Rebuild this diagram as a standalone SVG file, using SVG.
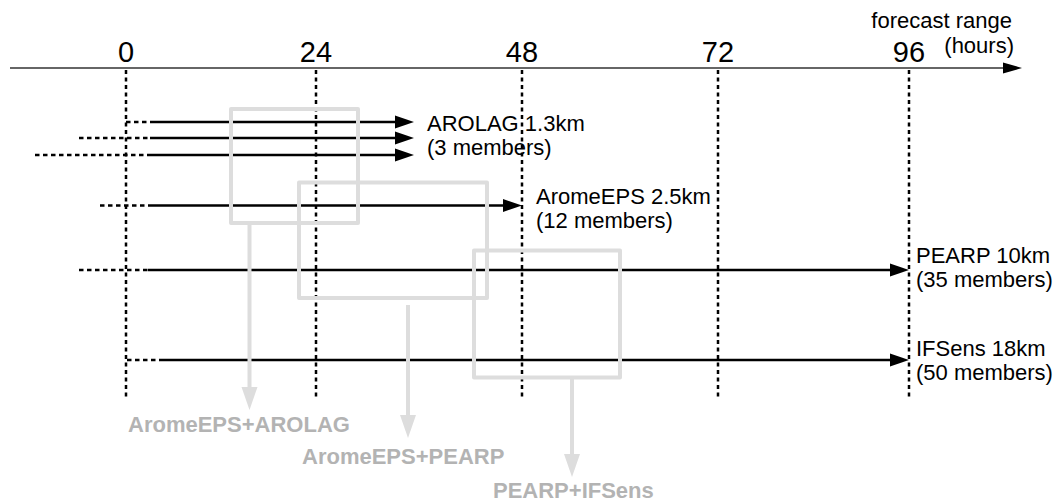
<svg xmlns="http://www.w3.org/2000/svg" width="1057" height="503" viewBox="0 0 1057 503">
<style>
.lbl{font-family:"Liberation Sans",Arial,sans-serif;font-size:22px;fill:#000}
.num{font-family:"Liberation Sans",Arial,sans-serif;font-size:29px;fill:#000;text-anchor:middle}
.glbl{font-family:"Liberation Sans",Arial,sans-serif;font-size:22px;font-weight:bold;fill:#b3b3b3}
.tick{stroke:#000;stroke-width:2.5;stroke-dasharray:4 3.5;fill:none}
.dash{stroke:#000;stroke-width:2.5;stroke-dasharray:4.5 3.5;fill:none}
.arr{stroke:#000;stroke-width:2.5;fill:none;marker-end:url(#ah)}
.box{fill:none;stroke:#dddddd;stroke-width:4;stroke-linejoin:round}
.garr{stroke:#dddddd;stroke-width:4;fill:none;marker-end:url(#gh)}
</style>
<defs>
<marker id="ah" markerUnits="userSpaceOnUse" markerWidth="19" markerHeight="13" refX="0" refY="6.5" orient="auto" overflow="visible"><path d="M0,0 L19,6.5 L0,13 z" fill="#000"/></marker>
<marker id="axh" markerUnits="userSpaceOnUse" markerWidth="19" markerHeight="11" refX="0" refY="5.5" orient="auto" overflow="visible"><path d="M0,0 L19,5.5 L0,11 z" fill="#000"/></marker>
<marker id="gh" markerUnits="userSpaceOnUse" markerWidth="23" markerHeight="16" refX="0" refY="8" orient="auto" overflow="visible"><path d="M0,0 L23,8 L0,16 z" fill="#dddddd"/></marker>
</defs>
<g id="axis">
<line x1="10" y1="68" x2="1003" y2="68" stroke="#333" stroke-width="1.5" marker-end="url(#axh)"/>
<text class="lbl" x="1012" y="28" text-anchor="end">forecast range</text>
<text class="lbl" x="1014" y="53" text-anchor="end">(hours)</text>
<text class="num" x="126" y="62">0</text>
<text class="num" x="316" y="62">24</text>
<text class="num" x="522" y="62">48</text>
<text class="num" x="718" y="62">72</text>
<text class="num" x="909" y="62">96</text>
</g>
<g id="ticks">
<line class="tick" x1="126" y1="70" x2="126" y2="397"/>
<line class="tick" x1="316" y1="70" x2="316" y2="397"/>
<line class="tick" x1="522" y1="70" x2="522" y2="397"/>
<line class="tick" x1="718" y1="70" x2="718" y2="397"/>
<line class="tick" x1="909" y1="70" x2="909" y2="397"/>
</g>
<g id="connectors">
<line class="dash" x1="126" y1="122" x2="151" y2="122"/>
<line class="arr" x1="151" y1="122" x2="395" y2="122"/>
<line class="dash" x1="79" y1="138" x2="150" y2="138"/>
<line class="arr" x1="150" y1="138" x2="395" y2="138"/>
<line class="dash" x1="35" y1="155" x2="149" y2="155"/>
<line class="arr" x1="149" y1="155" x2="395" y2="155"/>
<line class="dash" x1="100" y1="205.5" x2="149" y2="205.5"/>
<line class="arr" x1="149" y1="205.5" x2="503" y2="205.5"/>
<line class="dash" x1="79" y1="270" x2="148" y2="270"/>
<line class="arr" x1="148" y1="270" x2="890" y2="270"/>
<line class="dash" x1="127" y1="360" x2="160" y2="360"/>
<line class="arr" x1="160" y1="360" x2="890" y2="360"/>
</g>
<g id="arolag">
<text class="lbl" x="427" y="131">AROLAG 1.3km</text>
<text class="lbl" x="427" y="155">(3 members)</text>
</g>
<g id="aromeeps">
<text class="lbl" x="536" y="204">AromeEPS 2.5km</text>
<text class="lbl" x="536" y="228">(12 members)</text>
</g>
<g id="pearp">
<text class="lbl" x="916" y="263">PEARP 10km</text>
<text class="lbl" x="916" y="287">(35 members)</text>
</g>
<g id="ifsens">
<text class="lbl" x="916" y="356">IFSens 18km</text>
<text class="lbl" x="916" y="380">(50 members)</text>
</g>
<g id="combo1">
<rect class="box" x="231" y="109" width="127" height="114"/>
<line class="garr" x1="249.5" y1="223" x2="249.5" y2="387"/>
<text class="glbl" x="128" y="432">AromeEPS+AROLAG</text>
</g>
<g id="combo2">
<rect class="box" x="299" y="182.5" width="188" height="115.5"/>
<line class="garr" x1="408" y1="305" x2="408" y2="415"/>
<text class="glbl" x="302" y="464">AromeEPS+PEARP</text>
</g>
<g id="combo3">
<rect class="box" x="474" y="250.5" width="146" height="127"/>
<line class="garr" x1="572" y1="377.5" x2="572" y2="454"/>
<text class="glbl" x="493" y="498">PEARP+IFSens</text>
</g>
</svg>
